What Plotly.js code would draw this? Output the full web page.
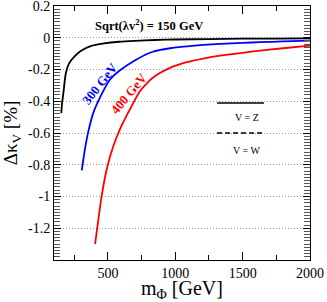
<!DOCTYPE html>
<html>
<head>
<meta charset="utf-8">
<script src="https://cdn.plot.ly/plotly-3.0.1.min.js"></script>
<style>html,body{margin:0;padding:0;background:#fff;}#chart{width:327px;height:302px;}</style>
</head>
<body>
<div id="chart"></div>
<script>
// m_Phi [GeV] and Delta kappa_V [%] for each sqrt(lambda v^2) value
const m150 = [154, 160, 169, 187, 211, 249, 298, 372, 471, 583, 700, 850, 1000, 1250, 1500, 1750, 2000];
const k150 = [-0.475, -0.41, -0.354, -0.227, -0.163, -0.121, -0.083, -0.053, -0.036, -0.025, -0.019, -0.014, -0.011, -0.008, -0.006, -0.005, -0.004];

const m300 = [306, 330, 355, 393, 442, 516, 590, 709, 833, 961, 1085, 1208, 1333, 1500, 1629, 1800, 2000];
const k300 = [-0.835, -0.70, -0.59, -0.47, -0.375, -0.263, -0.205, -0.138, -0.088, -0.066, -0.054, -0.045, -0.038, -0.032, -0.028, -0.023, -0.018];

const m400 = [405, 430, 455, 492, 541, 590, 664, 739, 833, 961, 1085, 1208, 1333, 1500, 1629, 1800, 2000];
const k400 = [-1.30, -1.14, -0.99, -0.825, -0.68, -0.575, -0.45, -0.335, -0.252, -0.19, -0.154, -0.131, -0.1125, -0.095, -0.081, -0.066, -0.05];

const xTicks = [500, 1000, 1500, 2000];
const xMinor = [250, 750, 1250, 1750];
const yTicks = [-1.2, -1, -0.8, -0.6, -0.4, -0.2, 0, 0.2];
const yTickText = ['-1.2', '-1', '-0.8', '-0.6', '-0.4', '-0.2', '0', '0.2'];

const serif = 'Liberation Serif, Times New Roman, serif';

const traces = [
  {x: m150, y: k150, mode: 'lines', line: {color: 'black', width: 1.8, shape: 'spline', smoothing: 0.6}},
  {x: m300, y: k300, mode: 'lines', line: {color: '#0000ff', width: 1.8, shape: 'spline', smoothing: 0.6}},
  {x: m400, y: k400, mode: 'lines', line: {color: '#ff0000', width: 1.8, shape: 'spline', smoothing: 0.6}}
];

const ann = (x, y, text, size, color, angle) => ({
  xref: 'paper', yref: 'paper', x: x, y: y, xanchor: 'center', yanchor: 'middle',
  showarrow: false, text: text, textangle: angle || 0,
  font: {family: serif, size: size, color: color}
});

const layout = {
  width: 327, height: 302,
  margin: {l: 54, r: 17, t: 6, b: 42},
  paper_bgcolor: 'white', plot_bgcolor: 'white',
  showlegend: false,
  font: {family: serif, color: 'black'},
  xaxis: {
    range: [100, 2000], tickmode: 'array', tickvals: xTicks,
    ticks: 'inside', ticklen: 8, tickwidth: 1, tickcolor: 'black',
    mirror: 'allticks', showline: true, linecolor: 'black', linewidth: 1,
    showgrid: false, zeroline: false,
    minor: {tickmode: 'array', tickvals: xMinor, ticks: 'inside', ticklen: 5, tickcolor: 'black', showgrid: false},
    tickfont: {family: serif, size: 14, color: 'black'},
    title: {text: 'm<sub>Φ</sub> [GeV]', font: {family: serif, size: 20, color: 'black'}, standoff: 0}
  },
  yaxis: {
    range: [-1.4, 0.2001], tickmode: 'array', tickvals: yTicks, ticktext: yTickText,
    ticks: 'inside', ticklen: 7, tickwidth: 1, tickcolor: 'black',
    ticklabeloverflow: 'allow',
    mirror: 'allticks', showline: true, linecolor: 'black', linewidth: 1,
    showgrid: true, gridcolor: '#999', griddash: '1px,2px', gridwidth: 1, zeroline: false,
    minor: {dtick: 0.02, ticks: 'inside', ticklen: 6, tickcolor: '#555', showgrid: false},
    tickfont: {family: serif, size: 14, color: 'black'},
    title: {text: 'Δκ<sub>V</sub> [%]', font: {family: serif, size: 19, color: 'black'}, standoff: 6}
  },
  annotations: [
    ann(0.373, 0.925, '<b>Sqrt(λv<sup>2</sup>) = 150 GeV</b>', 12.5, 'black'),
    ann(0.18, 0.693, '<b>300 GeV</b>', 13, '#0000ff', -52),
    ann(0.293, 0.654, '<b>400 GeV</b>', 13, '#ff0000', -50),
    ann(0.754, 0.561, 'V = Z', 10, 'black'),
    ann(0.754, 0.431, 'V = W', 10, 'black')
  ],
  shapes: [
    {type: 'line', xref: 'paper', yref: 'paper', x0: 0.637, x1: 0.82, y0: 0.618, y1: 0.618,
     line: {color: 'black', width: 1.5}},
    {type: 'line', xref: 'paper', yref: 'paper', x0: 0.637, x1: 0.82, y0: 0.500, y1: 0.500,
     line: {color: 'black', width: 1.5, dash: '5px,3px'}}
  ]
};

Plotly.newPlot('chart', traces, layout, {staticPlot: true, displayModeBar: false});
</script>
</body>
</html>
